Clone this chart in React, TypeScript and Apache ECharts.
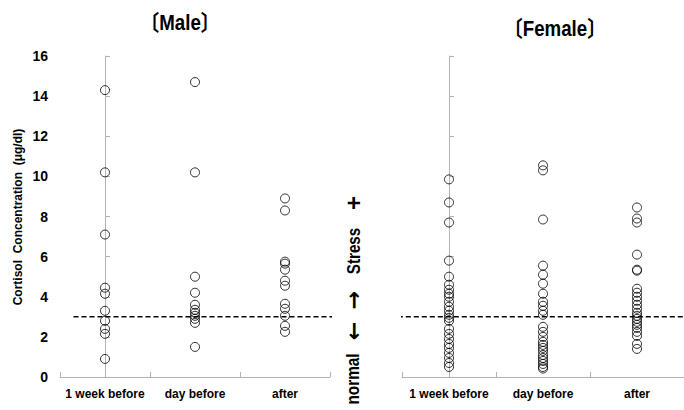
import React, { useEffect, useRef } from "react";
import * as echarts from "echarts";

const categories = ["1 week before", "day before", "after"];
const yTicks = { min: 0, max: 16, interval: 2 };
const normalLimit = 3.0;

const maleWeekBefore = [14.3, 10.2, 7.1, 4.45, 4.15, 3.3, 2.8, 2.4, 2.15, 0.9];
const maleDayBefore = [14.7, 10.2, 5.0, 4.2, 3.6, 3.35, 3.2, 3.05, 2.9, 2.7, 1.5];
const maleAfter = [8.9, 8.3, 5.75, 5.65, 5.35, 4.8, 4.55, 3.65, 3.4, 3.05, 2.55, 2.25];

const femaleWeekBefore = [9.85, 8.7, 7.7, 5.8, 5.0, 4.6, 4.35, 4.15, 4.0, 3.75, 3.5, 3.3, 3.1, 2.95, 2.8, 2.4, 2.15, 1.9, 1.65, 1.45, 1.2, 0.95, 0.7, 0.5];
const femaleDayBefore = [10.55, 10.3, 7.85, 5.55, 5.1, 4.65, 4.15, 3.75, 3.55, 3.3, 3.1, 2.5, 2.25, 2.0, 1.75, 1.6, 1.45, 1.3, 1.1, 0.95, 0.8, 0.65, 0.5, 0.42];
const femaleAfter = [8.45, 7.9, 7.7, 6.1, 5.35, 5.3, 4.4, 4.2, 4.0, 3.8, 3.6, 3.4, 3.2, 3.05, 2.9, 2.75, 2.6, 2.45, 2.25, 2.05, 1.65, 1.4];

const SANS = "'Liberation Sans', Arial, 'Noto Sans CJK JP', sans-serif";
const ARROW = "'DejaVu Sans', 'Liberation Sans', sans-serif";

function toPoints(groups: number[][]) {
  const pts: [string, number][] = [];
  groups.forEach((g, i) => g.forEach((v) => pts.push([categories[i], v])));
  return pts;
}

export default function App() {
  const ref = useRef<HTMLDivElement>(null);
  useEffect(() => {
    if (!ref.current) return;
    const chart = echarts.init(ref.current, undefined, { renderer: "svg" });
    const axisGray = "#b4b4b4";
    const catAxis = (gi: number) => ({
      type: "category",
      gridIndex: gi,
      data: categories,
      boundaryGap: true,
      axisLine: { show: true, lineStyle: { color: axisGray, width: 1 } },
      axisTick: { show: true, inside: true, length: 5, lineStyle: { color: axisGray } },
      axisLabel: { interval: 0, hideOverlap: false, color: "#000", fontWeight: "bold", fontSize: 12, fontFamily: SANS, margin: 11 },
      splitLine: { show: false },
    });
    const valAxis = (gi: number, showLabel: boolean) => ({
      type: "value",
      gridIndex: gi,
      min: yTicks.min,
      max: yTicks.max,
      interval: yTicks.interval,
      axisLine: { show: true, lineStyle: { color: axisGray, width: 1 } },
      axisTick: { show: true, inside: true, length: 5, lineStyle: { color: axisGray } },
      axisLabel: { show: showLabel, color: "#000", fontWeight: "bold", fontSize: 14, fontFamily: SANS, margin: 12 },
      splitLine: { show: false },
    });
    const hiddenX = (gi: number) => ({ type: "value", gridIndex: gi, min: -0.5, max: 2.5, show: false });
    const scatterStyle = {
      type: "scatter",
      symbol: "circle",
      symbolSize: 9,
      itemStyle: { color: "rgba(0,0,0,0)", borderColor: "#000", borderWidth: 1 },
      silent: true,
    };
    const dashStyle = { type: [5, 3], color: "#000", width: 1.5 };
    const rot = Math.PI / 2;
    const midText = (text: string, y: number, size = 19, family = SANS, sx = 0.8) => ({
      type: "text",
      x: 353,
      y,
      rotation: rot,
      scaleX: sx,
      style: { text, fontSize: size, fontWeight: "bold", fontFamily: family, fill: "#000", align: "center", verticalAlign: "middle" },
    });
    chart.setOption({
      animation: false,
      backgroundColor: "#fff",
      grid: [
        { left: 60, top: 56, width: 270, height: 321 },
        { left: 402, top: 56, width: 294, height: 321 },
      ],
      xAxis: [catAxis(0), catAxis(1), hiddenX(0), hiddenX(1)],
      yAxis: [valAxis(0, true), valAxis(1, false)],
      series: [
        { ...scatterStyle, xAxisIndex: 0, yAxisIndex: 0, data: toPoints([maleWeekBefore, maleDayBefore, maleAfter]) },
        { ...scatterStyle, xAxisIndex: 1, yAxisIndex: 1, data: toPoints([femaleWeekBefore, femaleDayBefore, femaleAfter]) },
        { type: "line", xAxisIndex: 2, yAxisIndex: 0, symbol: "none", clip: false, silent: true, lineStyle: dashStyle, data: [[-0.35, normalLimit], [2.61, normalLimit]] },
        { type: "line", xAxisIndex: 3, yAxisIndex: 1, symbol: "none", clip: false, silent: true, lineStyle: dashStyle, data: [[-0.8, normalLimit], [3.0, normalLimit]] },
      ],
      graphic: [
        { type: "text", x: 180, y: 22, scaleX: 0.85, style: { text: "〔Male〕", fontSize: 22, fontWeight: "bold", fontFamily: SANS, fill: "#000", align: "center", verticalAlign: "middle" } },
        { type: "text", x: 555, y: 28, scaleX: 0.85, style: { text: "〔Female〕", fontSize: 22, fontWeight: "bold", fontFamily: SANS, fill: "#000", align: "center", verticalAlign: "middle" } },
        { type: "text", x: 18, y: 217, rotation: rot, style: { text: "Cortisol  Concentration  (μg/dl)", fontSize: 12, fontWeight: "bold", fontFamily: SANS, fill: "#000", align: "center", verticalAlign: "middle" } },
        midText("+", 203, 24, SANS, 1),
        midText("Stress", 251, 19),
        midText("→", 300, 22, ARROW, 1),
        midText("←", 331, 22, ARROW, 1),
        midText("normal", 379, 18, SANS, 0.85),
      ],
    });
    return () => chart.dispose();
  }, []);
  return <div ref={ref} style={{ position: "fixed", left: 0, top: 0, width: 684, height: 410, background: "#fff" }} />;
}
